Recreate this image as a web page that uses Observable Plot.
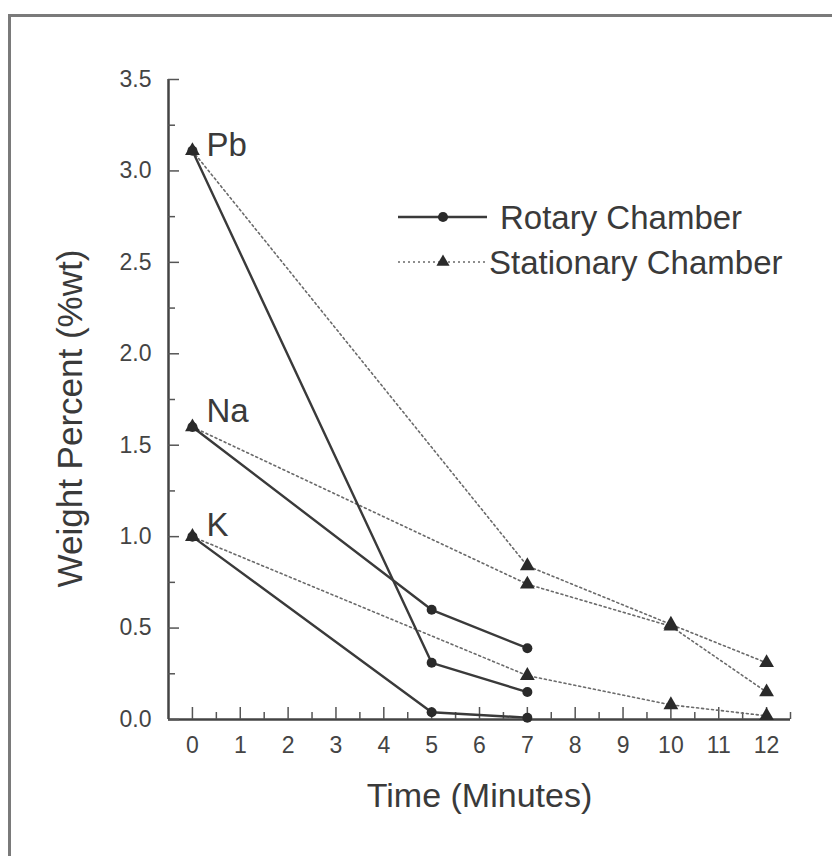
<!DOCTYPE html>
<html><head><meta charset="utf-8">
<script src="https://cdn.jsdelivr.net/npm/d3@7"></script>
<script src="https://cdn.jsdelivr.net/npm/@observablehq/plot@0.6"></script>
<style>
body{margin:0;background:#fff;}
#wrap{position:relative;width:832px;height:856px;overflow:hidden;font-family:"Liberation Sans",Arial,sans-serif;background:#fff;}
#border{position:absolute;left:8px;top:14px;width:900px;height:900px;border-left:3px solid #7a7a7a;border-top:3px solid #7a7a7a;}
#chart{position:absolute;left:0;top:0;}
#legend{position:absolute;left:0;top:0;}
</style></head>
<body><div id="wrap"><div id="border"></div><div id="chart"></div><svg id="legend" width="832" height="856"></svg></div>
<script>
// ---- data ----
const elements = ["Pb", "Na", "K"];
const rotaryTime = [0, 5, 7];
const rotaryPb = [3.11, 0.31, 0.15];
const rotaryNa = [1.60, 0.60, 0.39];
const rotaryK  = [1.00, 0.04, 0.01];
const stationaryTime = [0, 7, 10, 12];
const stationaryPb = [3.11, 0.84, 0.52, 0.31];
const stationaryNa = [1.60, 0.74, 0.51, 0.15];
const stationaryK  = [1.00, 0.24, 0.08, 0.02];
const seriesNames = ["Rotary Chamber", "Stationary Chamber"];
const xTicks = [0,1,2,3,4,5,6,7,8,9,10,11,12];
const xMinorTicks = [0.5,1.5,2.5,3.5,4.5,5.5,6.5,7.5,8.5,9.5,10.5,11.5,12.5];
const yTicks = [0,0.5,1.0,1.5,2.0,2.5,3.0,3.5];
const yMinorTicks = [0.25,0.75,1.25,1.75,2.25,2.75,3.25];
const xDomain = [-0.5, 12.5];
const yDomain = [0, 3.5];
const xTitle = "Time (Minutes)";
const yTitle = "Weight Percent (%wt)";

// ---- tables ----
const rotaryVals = {Pb: rotaryPb, Na: rotaryNa, K: rotaryK};
const statVals = {Pb: stationaryPb, Na: stationaryNa, K: stationaryK};
const rotaryRows = elements.flatMap(e => rotaryTime.map((t, i) => ({element: e, time: t, value: rotaryVals[e][i]})));
const statRows = elements.flatMap(e => stationaryTime.map((t, i) => ({element: e, time: t, value: statVals[e][i]})));
const labelRows = elements.map(e => ({element: e, time: rotaryTime[0], value: rotaryVals[e][0]}));

const W = 832, H = 856, mL = 168, mR = 42, mT = 79, mB = 137;
const fw = W - mL - mR, fh = H - mT - mB;
const ink = "#3a3a3a";
const font = "'Liberation Sans', Arial, sans-serif";

const chart = Plot.plot({
  width: W, height: H,
  marginLeft: mL, marginRight: mR, marginTop: mT, marginBottom: mB,
  x: {domain: xDomain},
  y: {domain: yDomain},
  style: {fontFamily: font, background: "transparent", color: ink},
  marks: [
    Plot.axisX({ticks: xTicks, tickSize: 0, tickPadding: 17, fontSize: 23, label: null, fill: "#444"}),
    Plot.axisY({ticks: yTicks, tickSize: 0, tickPadding: 17, fontSize: 23, label: null, tickFormat: d3.format(".1f"), fill: "#444"}),
    Plot.ruleY([yDomain[0]], {stroke: "#444", strokeWidth: 2.5}),
    Plot.ruleX([xDomain[0]], {stroke: "#444", strokeWidth: 2.5}),
    Plot.tickX(xTicks, {x: d => d, insetTop: fh - 12, stroke: "#555", strokeWidth: 1.5}),
    Plot.tickX(xMinorTicks, {x: d => d, insetTop: fh - 7, stroke: "#555", strokeWidth: 1.5}),
    Plot.tickY(yTicks, {y: d => d, insetRight: fw - 11, stroke: "#555", strokeWidth: 1.5}),
    Plot.tickY(yMinorTicks, {y: d => d, insetRight: fw - 7, stroke: "#555", strokeWidth: 1.5}),
    Plot.line(statRows, {x: "time", y: "value", z: "element", stroke: "#6a6a6a", strokeWidth: 1.6, strokeDasharray: "2,3"}),
    Plot.line(rotaryRows, {x: "time", y: "value", z: "element", stroke: ink, strokeWidth: 2.4}),
    Plot.dot(statRows, {x: "time", y: "value", symbol: "triangle", r: 5.5, fill: "#2a2a2a"}),
    Plot.dot(rotaryRows, {x: "time", y: "value", symbol: "circle", r: 5, fill: "#2a2a2a"}),
    Plot.text(labelRows.filter(d => d.element === "Pb"), {x: "time", y: "value", text: "element", textAnchor: "start", dx: 14, dy: -5, fontSize: 33, fill: ink}),
    Plot.text(labelRows.filter(d => d.element === "Na"), {x: "time", y: "value", text: "element", textAnchor: "start", dx: 14, dy: -15, fontSize: 33, fill: ink}),
    Plot.text(labelRows.filter(d => d.element === "K"), {x: "time", y: "value", text: "element", textAnchor: "start", dx: 14, dy: -11, fontSize: 33, fill: ink}),
    Plot.text([xTitle], {frameAnchor: "bottom", dy: 87, fontSize: 34, fill: ink}),
    Plot.text([yTitle], {frameAnchor: "left", textAnchor: "middle", rotate: -90, dx: -98, dy: 19, fontSize: 35, fill: ink})
  ]
});
document.getElementById("chart").appendChild(chart);

// ---- legend overlay ----
const lg = d3.select("#legend");
const rows = [
  {name: seriesNames[0], y: 217, dash: null, sym: d3.symbolCircle, stroke: ink, sw: 2.4, tx: 500, size: 80},
  {name: seriesNames[1], y: 262, dash: "2,3", sym: d3.symbolTriangle, stroke: "#6a6a6a", sw: 1.6, tx: 489, size: 75}
];
rows.forEach(r => {
  lg.append("line").attr("x1", 398).attr("x2", 487).attr("y1", r.y).attr("y2", r.y)
    .attr("stroke", r.stroke).attr("stroke-width", r.sw).attr("stroke-dasharray", r.dash);
  lg.append("path").attr("d", d3.symbol(r.sym, r.size)()).attr("transform", `translate(443,${r.y})`).attr("fill", "#2a2a2a");
  lg.append("text").attr("x", r.tx).attr("y", r.y).attr("dy", "0.35em").attr("font-size", 33)
    .attr("font-family", font).attr("fill", ink).text(r.name);
});
</script>
</body></html>
